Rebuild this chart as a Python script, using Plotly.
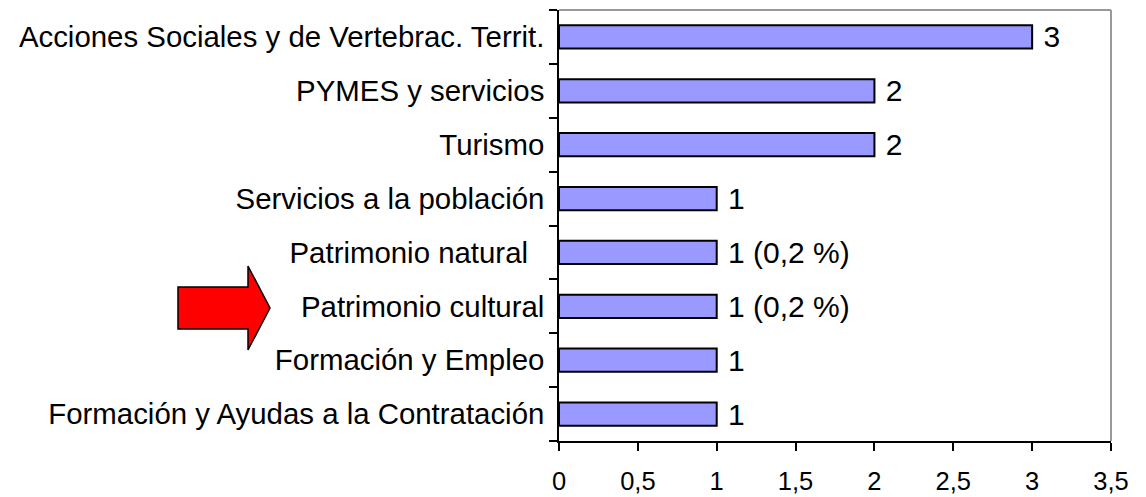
import plotly.graph_objects as go

# Data (bottom to top)
categories = [
    "Formación y Ayudas a la Contratación",
    "Formación y Empleo",
    "Patrimonio cultural",
    "Patrimonio natural\u00a0\u00a0",
    "Servicios a la población",
    "Turismo",
    "PYMES y servicios",
    "Acciones Sociales y de Vertebrac. Territ.",
]
values = [1, 1, 1, 1, 1, 2, 2, 3]
value_labels = ["1", "1", "1 (0,2 %)", "1 (0,2 %)", "1", "2", "2", "3"]
x_ticks = [0, 0.5, 1, 1.5, 2, 2.5, 3, 3.5]
x_ticktext = ["0", "0,5", "1", "1,5", "2", "2,5", "3", "3,5"]

W, H = 1146, 497
ML, MR, MT, MB = 559, 35, 10, 56
PW, PH = W - ML - MR, H - MT - MB

def px(x):
    return (x - ML) / PW

def py(y):
    return (H - MB - y) / PH

FONT = "Liberation Sans, Arial, sans-serif"

fig = go.Figure()
fig.add_trace(go.Bar(
    y=categories,
    x=values,
    orientation="h",
    text=value_labels,
    texttemplate="\u00a0%{text}",
    textposition="outside",
    constraintext="none",
    cliponaxis=False,
    textfont=dict(family=FONT, size=30, color="black"),
    marker=dict(color="#9999FF", line=dict(color="black", width=2)),
    hoverinfo="skip",
))

# Arrow pointing to "Patrimonio cultural"
arrow_pts = [(178, 287), (248, 287), (248, 266), (270, 308), (248, 350), (248, 329), (178, 329)]
path = "M " + " L ".join(f"{px(a):.5f},{py(b):.5f}" for a, b in arrow_pts) + " Z"

shapes = [
    dict(type="path", path=path, xref="paper", yref="paper",
         fillcolor="#FF0000", line=dict(color="black", width=1.5)),
    # plot area border top/right
    dict(type="line", xref="paper", yref="paper", x0=0, x1=1, y0=1, y1=1,
         line=dict(color="#999999", width=2)),
    dict(type="line", xref="paper", yref="paper", x0=1, x1=1, y0=0, y1=1,
         line=dict(color="#999999", width=2)),
]

fig.update_layout(
    width=W, height=H,
    margin=dict(l=ML, r=MR, t=MT, b=MB, autoexpand=False),
    paper_bgcolor="white",
    plot_bgcolor="white",
    bargap=0.57,
    showlegend=False,
    shapes=shapes,
    font=dict(family=FONT, color="black"),
    xaxis=dict(
        range=[0, 3.5],
        tickvals=x_ticks,
        ticktext=x_ticktext,
        showgrid=False,
        zeroline=False,
        showline=True,
        linecolor="black",
        linewidth=1.5,
        ticks="outside",
        ticklen=8,
        tickwidth=1.5,
        tickcolor="black",
        tickfont=dict(family=FONT, size=25.5, color="black"),
        ticklabelstandoff=9,
    ),
    yaxis=dict(
        categoryorder="array",
        categoryarray=categories,
        showgrid=False,
        zeroline=False,
        showline=True,
        linecolor="black",
        linewidth=1.5,
        ticks="outside",
        tickson="boundaries",
        ticklen=8,
        tickwidth=1.5,
        tickcolor="black",
        tickfont=dict(family=FONT, size=29.4, color="black"),
        ticklabelstandoff=7,
    ),
)

fig.write_html(
    "out.html",
    config={"displayModeBar": False},
    post_script="document.body.style.margin='0';document.body.style.padding='0';",
)
